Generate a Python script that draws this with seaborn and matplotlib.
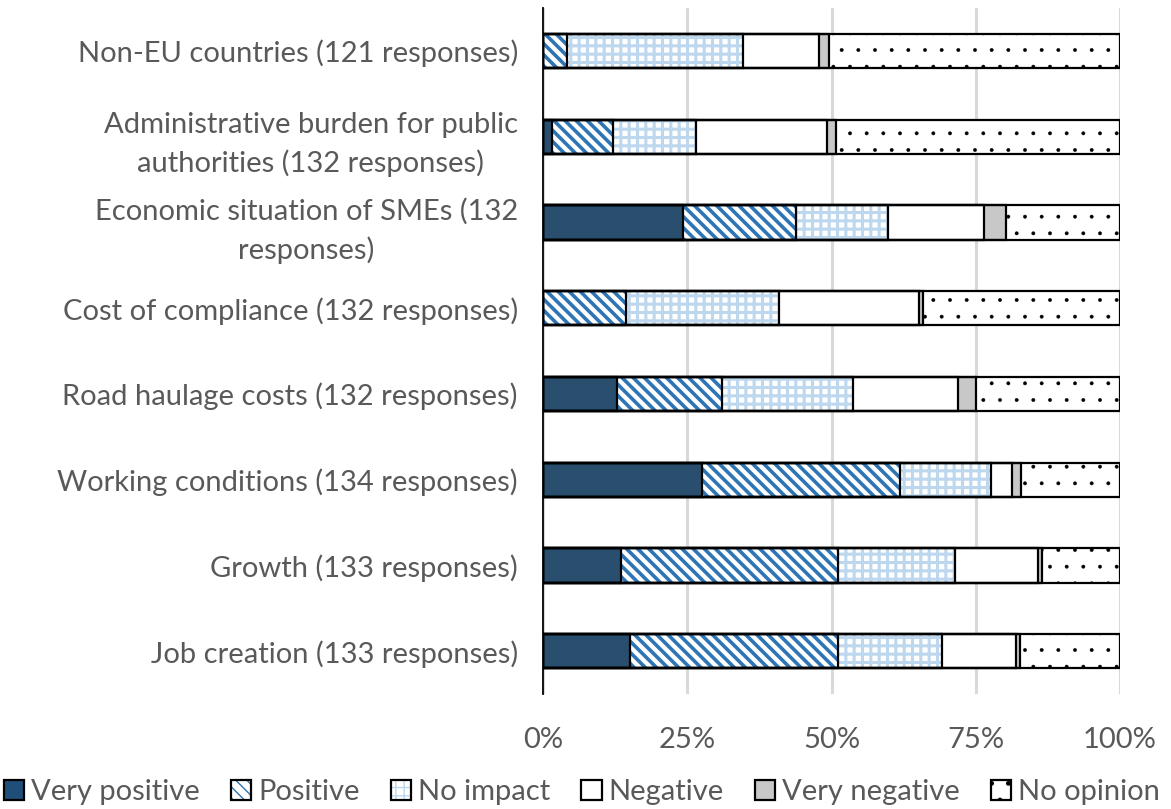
import matplotlib
matplotlib.use("Agg")
import matplotlib.pyplot as plt
from matplotlib.patches import Patch
from matplotlib.legend_handler import HandlerTuple
import seaborn as sns
import pandas as pd
import numpy as np

sns.set_style("white")
plt.rcParams['font.family'] = ['Lato', 'DejaVu Sans']

# questions, top to bottom as in the chart
labels = ["Non-EU countries (121 responses)",
          "Administrative burden for public\nauthorities (132 responses)",
          "Economic situation of SMEs (132\nresponses)",
          "Cost of compliance (132 responses)",
          "Road haulage costs (132 responses)",
          "Working conditions (134 responses)",
          "Growth (133 responses)",
          "Job creation (133 responses)"]

# share of responses (%) per answer
very_positive = [0.0, 1.5, 24.2, 0.0, 12.9, 27.6, 13.5, 15.0]
positive = [4.1, 10.6, 19.7, 14.4, 18.2, 34.3, 37.6, 36.1]
no_impact = [30.6, 14.4, 15.9, 26.5, 22.7, 15.7, 20.3, 18.0]
negative = [13.2, 22.7, 16.7, 24.2, 18.2, 3.7, 14.3, 12.8]
very_negative = [1.7, 1.5, 3.8, 0.8, 3.0, 1.5, 0.8, 0.8]
no_opinion = [50.4, 49.2, 19.7, 34.1, 25.0, 17.2, 13.5, 17.3]

answers = ["Very positive", "Positive", "No impact", "Negative", "Very negative", "No opinion"]
series = [very_positive, positive, no_impact, negative, very_negative, no_opinion]

fills = ["#1f4e79", "white", "white", "white", "#c8c8c8", "white"]
hatch_cols = ["#1f4e79", "#2e75b6", "#bdd7ee", "white", "#c8c8c8", "black"]
hatches = [None, "\\\\\\", "++", None, None, "."]
hatch_lw = {"\\\\\\": 2.6, "++": 2.2, ".": 0.3}

df = pd.DataFrame({"label": labels})
for a, s in zip(answers, series):
    df[a] = s
cum = df[answers].cumsum(axis=1)
cum = cum.div(cum[answers[-1]], axis=0) * 100

fig, ax = plt.subplots(figsize=(11.71, 8.09), dpi=100)
fig.subplots_adjust(left=0.4637, right=0.9565, top=0.99, bottom=0.142)

ax.xaxis.grid(True, color="#d9d9d9", linewidth=2.2, zorder=0)
ax.set_axisbelow(True)

# draw cumulative bars from the last answer back to the first
for i in range(len(answers) - 1, -1, -1):
    a = answers[i]
    sns.barplot(data=cum, x=a, y=df["label"], orient="h", color=fills[i],
                width=0.4, ax=ax, hatch=hatches[i], edgecolor=hatch_cols[i],
                linewidth=0, zorder=2)
for p in ax.patches:
    h = p.get_hatch()
    if h in hatch_lw and hasattr(p, "set_hatch_linewidth"):
        p.set_hatch_linewidth(hatch_lw[h])
# outlines
for i in range(len(answers) - 1, -1, -1):
    sns.barplot(data=cum, x=answers[i], y=df["label"], orient="h", fill=False,
                width=0.4, ax=ax, edgecolor="black", linewidth=1.6, zorder=3)

ax.set_xlim(0, 100)
ax.set_xticks([0, 25, 50, 75, 100])
ax.set_xticklabels(["0%", "25%", "50%", "75%", "100%"])
ax.set_xlabel("")
ax.set_ylabel("")
for s in ["top", "right", "bottom"]:
    ax.spines[s].set_visible(False)
ax.spines["left"].set_color("black")
ax.spines["left"].set_linewidth(1.3)
ax.tick_params(axis="x", length=0, pad=24, labelsize=21, labelcolor="#595959")
ax.tick_params(axis="y", length=0, pad=18, labelsize=21, labelcolor="#595959")
for t in ax.get_yticklabels():
    t.set_multialignment("center")
    t.set_linespacing(1.5)

handles = []
for i, a in enumerate(answers):
    body = Patch(facecolor=fills[i], edgecolor=hatch_cols[i], hatch=hatches[i], linewidth=0)
    if hatches[i] in hatch_lw and hasattr(body, "set_hatch_linewidth"):
        body.set_hatch_linewidth(1.2 if hatches[i] != "." else 0.3)
    frame = Patch(facecolor="none", edgecolor="black", linewidth=1.6)
    handles.append((body, frame))
fig.legend(handles=handles, labels=answers, loc="lower center",
           bbox_to_anchor=(0.497, -0.028), ncol=6,
           handler_map={tuple: HandlerTuple(ndivide=1, pad=0)},
           frameon=False, fontsize=21, labelcolor="#595959", handlelength=0.7,
           handleheight=0.7, handletextpad=0.25, columnspacing=1.05)

fig.savefig("out.png", dpi=100)
